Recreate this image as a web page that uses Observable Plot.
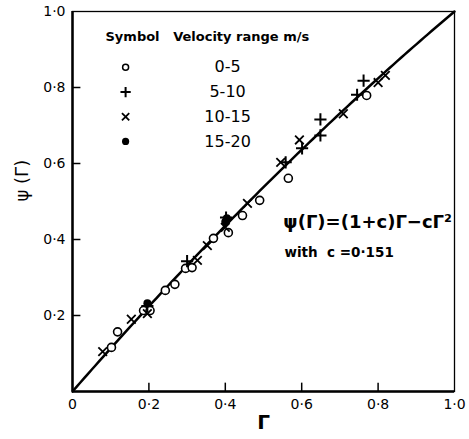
<!DOCTYPE html>
<html>
<head>
<meta charset="utf-8">
<script src="https://cdn.jsdelivr.net/npm/d3@7"></script>
<script src="https://cdn.jsdelivr.net/npm/@observablehq/plot@0.6"></script>
<style>
  body { margin: 0; background: #fff; }
  svg text { fill: #000; }
</style>
</head>
<body>
<div id="chart"></div>
<script>
// Data: Γ (x) and ψ(Γ) (y) for each velocity range
const circleX = [0.102, 0.118, 0.186, 0.203, 0.243, 0.268, 0.296, 0.313, 0.369, 0.408, 0.445, 0.490, 0.565, 0.770];
const circleY = [0.116, 0.157, 0.213, 0.213, 0.266, 0.282, 0.324, 0.326, 0.403, 0.418, 0.463, 0.503, 0.561, 0.779];

const plusX = [0.196, 0.300, 0.402, 0.558, 0.601, 0.649, 0.649, 0.745, 0.762];
const plusY = [0.225, 0.343, 0.458, 0.603, 0.640, 0.674, 0.716, 0.781, 0.818];

const timesX = [0.079, 0.154, 0.196, 0.327, 0.353, 0.400, 0.458, 0.545, 0.594, 0.709, 0.800, 0.819];
const timesY = [0.105, 0.190, 0.205, 0.345, 0.384, 0.432, 0.495, 0.603, 0.662, 0.731, 0.813, 0.832];

const filledX = [0.196, 0.400, 0.404];
const filledY = [0.232, 0.447, 0.456];

const legendLabels = ["0-5", "5-10", "10-15", "15-20"];
const legendSymbols = ["circle", "plus", "times", "filled"];

const xTicks = [0, 0.2, 0.4, 0.6, 0.8, 1.0];
const yTicks = [0.2, 0.4, 0.6, 0.8, 1.0];
const innerTicks = [0.2, 0.4, 0.6, 0.8];

const c = 0.151;

const zip = (xs, ys) => xs.map((x, i) => ({x, y: ys[i]}));
const fmt = d => d === 0 ? "0" : d.toFixed(1).replace(".", "·");

// model curve ψ(Γ) = (1+c)Γ − cΓ²
const curve = d3.range(0, 1.0001, 0.01).map(g => ({x: g, y: (1 + c) * g - c * g * g}));

// legend layout (data units)
const legX = 0.139, legLabX = 0.406, legTop = 0.853, legStep = 0.065;
const legRows = legendLabels.map((t, i) => ({label: t, sym: legendSymbols[i], x: legX, lx: legLabX, y: legTop - i * legStep}));

const font = "DejaVu Sans, sans-serif";

const chart = Plot.plot({
  width: 469,
  height: 439,
  marginLeft: 72,
  marginRight: 15,
  marginTop: 11,
  marginBottom: 48,
  x: {domain: [0, 1]},
  y: {domain: [0, 1]},
  style: {fontFamily: font, fontSize: "14px", color: "#000", background: "#fff"},
  marks: [
    Plot.frame({stroke: "#000", strokeWidth: 1.3}),
    Plot.ruleX([0], {stroke: "#000", strokeWidth: 2.5}),
    Plot.ruleY([0], {stroke: "#000", strokeWidth: 2.5}),
    Plot.ruleX(innerTicks, {x: d => d, y1: 0, y2: 0.022, stroke: "#000", strokeWidth: 1.5}),
    Plot.ruleY(innerTicks, {y: d => d, x1: 0, x2: 0.022, stroke: "#000", strokeWidth: 1.5}),
    Plot.axisX({ticks: xTicks, tickFormat: fmt, tickSize: 0, tickPadding: 8, label: null, fontSize: 14}),
    Plot.axisY({ticks: yTicks, tickFormat: fmt, tickSize: 0, tickPadding: 7, label: null, fontSize: 14}),
    Plot.line(curve, {x: "x", y: "y", stroke: "#000", strokeWidth: 2.5}),
    Plot.dot(zip(circleX, circleY), {x: "x", y: "y", r: 4, stroke: "#000", strokeWidth: 1.6, fill: "#fff"}),
    Plot.dot(zip(plusX, plusY), {x: "x", y: "y", symbol: "plus", r: 4, stroke: "#000", strokeWidth: 2}),
    Plot.dot(zip(timesX, timesY), {x: "x", y: "y", symbol: "times", r: 4, stroke: "#000", strokeWidth: 1.8}),
    Plot.dot(zip(filledX, filledY), {x: "x", y: "y", r: 4, fill: "#000"}),
    // legend
    Plot.text(["Symbol   Velocity range m/s"], {frameAnchor: "top-left", dx: 33, dy: 20, textAnchor: "start", fontSize: 13, fontWeight: "bold"}),
    Plot.dot(legRows.filter(d => d.sym === "circle"), {x: "x", y: "y", r: 3, stroke: "#000", strokeWidth: 1.5, fill: "#fff"}),
    Plot.dot(legRows.filter(d => d.sym === "plus"), {x: "x", y: "y", symbol: "plus", r: 3.4, stroke: "#000", strokeWidth: 2}),
    Plot.dot(legRows.filter(d => d.sym === "times"), {x: "x", y: "y", symbol: "times", r: 3.4, stroke: "#000", strokeWidth: 1.8}),
    Plot.dot(legRows.filter(d => d.sym === "filled"), {x: "x", y: "y", r: 3.6, fill: "#000"}),
    Plot.text(legRows, {x: "lx", y: "y", text: "label", textAnchor: "middle", fontSize: 16}),
    // equation
    Plot.text(["ψ(Γ)=(1+c)Γ−cΓ²"], {x: 0.552, y: 0.445, textAnchor: "start", fontSize: 18, fontWeight: "bold"}),
    Plot.text(["with  c =0·151"], {x: 0.555, y: 0.365, textAnchor: "start", fontSize: 13.5, fontWeight: "bold"}),
    // axis titles
    Plot.text(["Γ"], {frameAnchor: "bottom", dy: 37, fontSize: 20, fontWeight: "bold"}),
    Plot.text(["ψ (Γ)"], {frameAnchor: "left", dx: -50, dy: 0, rotate: -90, fontSize: 18})
  ]
});
document.getElementById("chart").appendChild(chart);
</script>
</body>
</html>
